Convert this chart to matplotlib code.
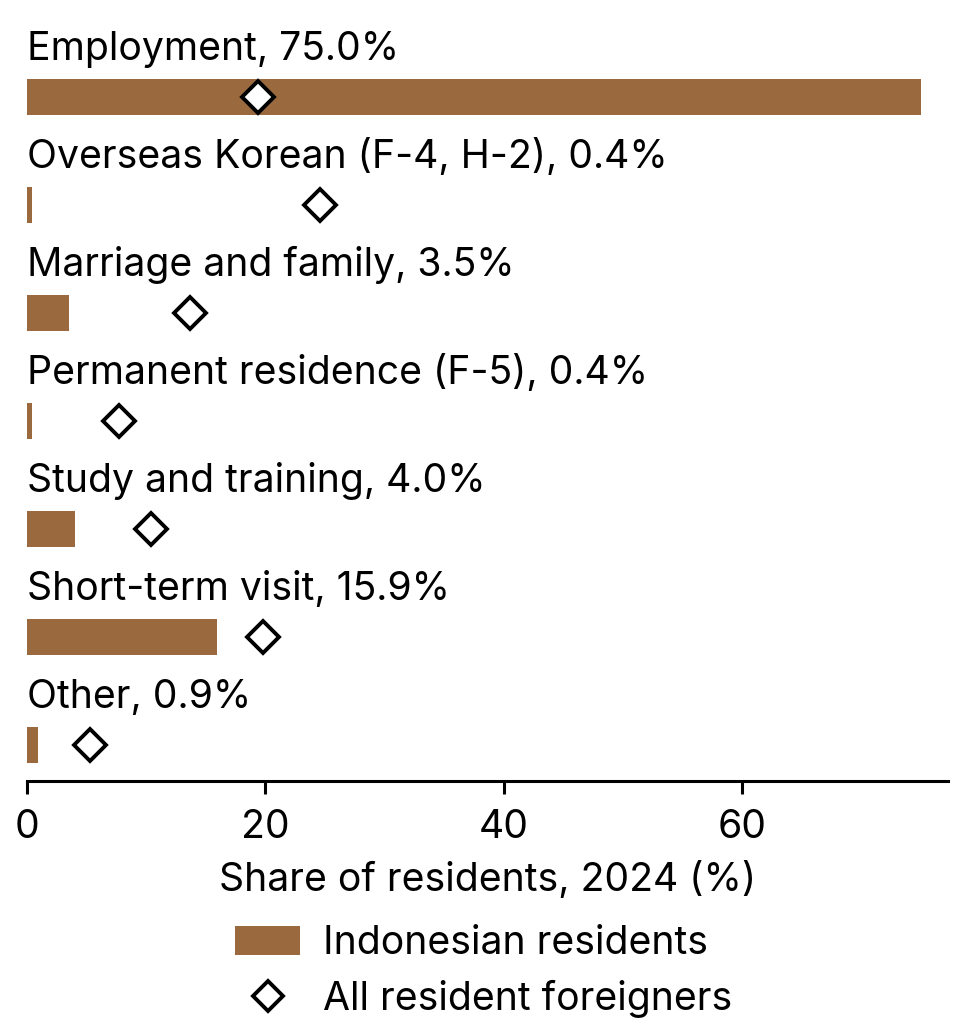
import matplotlib
matplotlib.use("Agg")
import matplotlib.pyplot as plt
from matplotlib.patches import Patch
from matplotlib.lines import Line2D
import numpy as np

plt.rcParams['font.family'] = ['Inter', 'DejaVu Sans']

categories = ["Employment", "Overseas Korean (F-4, H-2)", "Marriage and family",
              "Permanent residence (F-5)", "Study and training", "Short-term visit", "Other"]
indonesian = [75.0, 0.4, 3.5, 0.4, 4.0, 15.9, 0.9]
all_foreigners = [19.4, 24.6, 13.7, 7.7, 10.4, 19.8, 5.3]

bar_color = "#9a6a3e"
fs = 28.2

fig = plt.figure(figsize=(9.62, 10.32), dpi=100)
ax = fig.add_axes([27/962, 1 - 781/1032, (948-27)/962, (781-20)/1032])

n = len(categories)
ypos = np.arange(n)[::-1]
ax.barh(ypos, indonesian, height=0.333, color=bar_color, zorder=1)
ax.plot(all_foreigners, ypos, linestyle="none", marker="D", markersize=16.5,
        markerfacecolor="white", markeredgecolor="black", markeredgewidth=2.8, zorder=3)

for y, cat, v in zip(ypos, categories, indonesian):
    ax.text(0, y + 0.34, f"{cat}, {v:.1f}%", fontsize=fs, va="baseline", ha="left")

ax.set_xlim(0, 77.26)
ax.set_ylim(-0.333, 6 + (97 - 20) / 108)
ax.set_yticks([])
ax.set_xticks([0, 20, 40, 60])
ax.tick_params(axis="x", labelsize=fs, length=9, width=2.2, pad=11)
for s in ["left", "right", "top"]:
    ax.spines[s].set_visible(False)
ax.spines["bottom"].set_linewidth(2.2)
ax.set_xlabel("Share of residents, 2024 (%)", fontsize=fs, labelpad=11)

handles = [Patch(facecolor=bar_color, edgecolor="none"),
           Line2D([], [], linestyle="none", marker="D", markersize=15,
                  markerfacecolor="white", markeredgecolor="black", markeredgewidth=2.8)]
fig.legend(handles, ["Indonesian residents", "All resident foreigners"],
           loc="upper left", bbox_to_anchor=(235/962, 1 - 925/1032), frameon=False,
           borderaxespad=0, borderpad=0,
           fontsize=fs, handlelength=1.67, handleheight=0.75, handletextpad=0.57, labelspacing=0.46)

fig.savefig("out.png", dpi=100)
